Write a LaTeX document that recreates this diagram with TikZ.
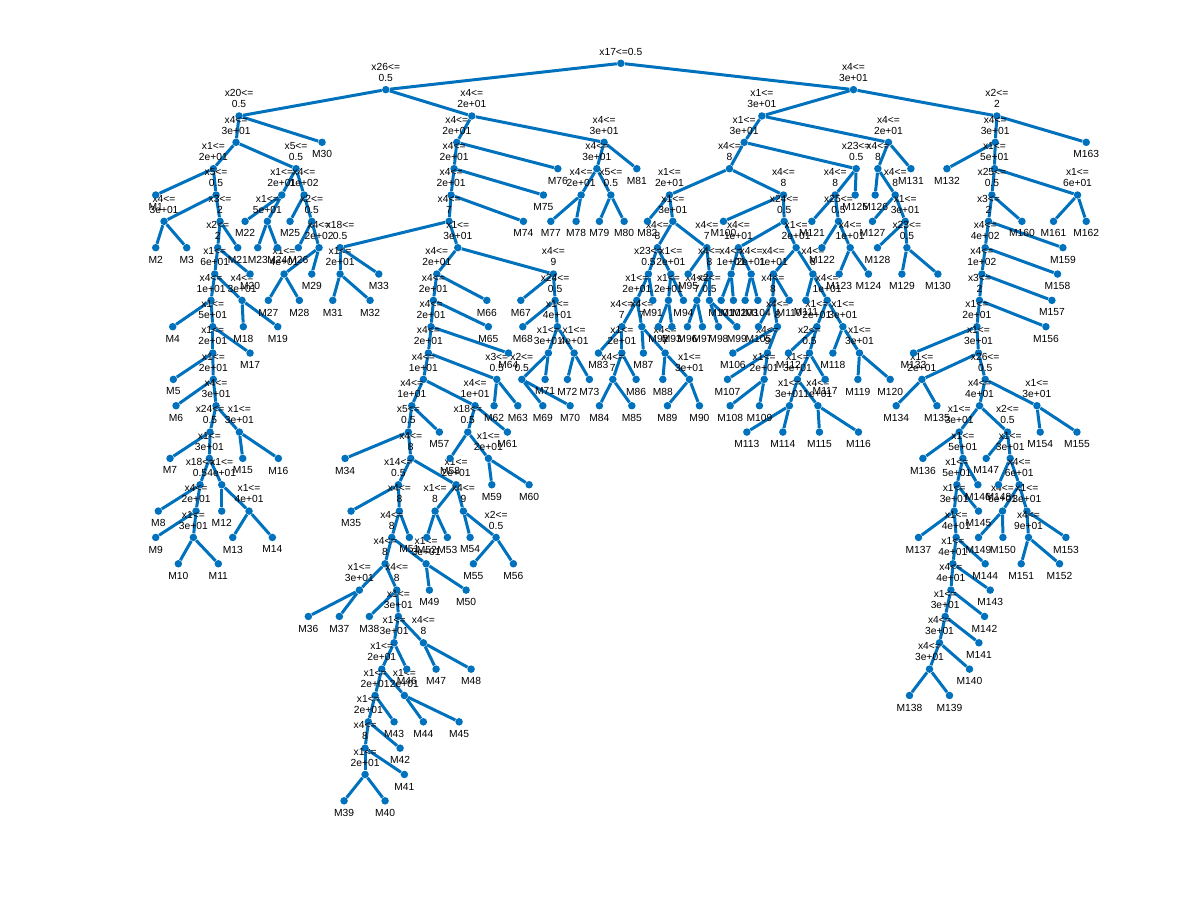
\documentclass[tikz,border=0pt]{standalone}
\usepackage{fontspec}
\setmainfont{Liberation Sans}
\usetikzlibrary{backgrounds}
\definecolor{mblue}{RGB}{0,114,189}
\tikzset{
 dotnode/.style={circle,fill=mblue,draw=none,inner sep=0pt,minimum size=0.15cm},
 splitnode/.style={dotnode,label distance=0.162cm},
 leafnode/.style={dotnode,label distance=0.15cm},
 ilbl/.style={font=\fontsize{5.85pt}{6.26pt}\selectfont,align=center,inner sep=0pt,text depth=0pt,yshift=0.075cm},
 llbl/.style={font=\fontsize{5.85pt}{6.26pt}\selectfont,inner sep=0pt,yshift=-0.08cm},
 conn/.style={draw=mblue,line width=0.06cm},
}
\newcommand\IN[5]{\node[splitnode,label={[ilbl]above:{#4\\#5}}] (#1) at (#2,-#3) {};}
\newcommand\LF[3]{\node[leafnode,label={[llbl]below:M#1}] (M#1) at (#2,-#3) {};}
\begin{document}
\begin{tikzpicture}
\useasboundingbox (0,0) rectangle (24,-18);
\begin{scope}[x=0.02cm,y=0.5268cm,shift={(0,-1.266cm)}]
% root
\node[splitnode,label={[ilbl]above:{x17<=0.5}}] (r) at (620.7,0) {};
% left part
\IN{a1}{385.7}{1}{x26<=}{0.5}
\IN{a2}{239}{2}{x20<=}{0.5}
\IN{a3}{236}{3}{x4<=}{3e+01}
\IN{a4}{213.3}{4}{x1<=}{2e+01}
\IN{a5}{296}{4}{x5<=}{0.5}
\IN{a6}{216}{5}{x5<=}{0.5}
\IN{a7}{164}{6}{x4<=}{3e+01}
\IN{a8}{220}{6}{x3<=}{2}
\IN{a9}{217.7}{7}{x2<=}{2}
\IN{a10}{214.7}{8}{x1<=}{6e+01}
\IN{a11}{211}{9}{x4<=}{1e+01}
\IN{a12}{242}{9}{x4<=}{3e+01}
\IN{a13}{212.7}{10}{x1<=}{5e+01}
\IN{a14}{212.7}{11}{x1<=}{2e+01}
\IN{a15}{213.3}{12}{x1<=}{2e+01}
\IN{a16}{216}{13}{x4<=}{3e+01}
\IN{a17}{210}{14}{x24<=}{0.5}
\IN{a18}{239.3}{14}{x1<=}{3e+01}
\IN{a19}{209.3}{15}{x1<=}{3e+01}
\IN{a20}{200}{16}{x18<=}{0.5}
\IN{a21}{221.7}{16}{x1<=}{4e+01}
\IN{a22}{196}{17}{x4<=}{2e+01}
\IN{a23}{249}{17}{x1<=}{4e+01}
\IN{a24}{193.3}{18}{x1<=}{3e+01}
\IN{a25}{281.7}{5}{x1<=}{2e+01}
\IN{a26}{304}{5}{x4<=}{1e+02}
\IN{a27}{267.3}{6}{x1<=}{5e+01}
\IN{a28}{311.7}{6}{x2<=}{0.5}
\IN{a29}{319}{7}{x4<=}{2e+02}
\IN{a30}{284}{8}{x1<=}{4e+01}
\LF{1}{155.7}{5}\LF{2}{155.7}{7}\LF{3}{186.7}{7}\LF{4}{172.7}{10}
\LF{5}{173.3}{12}\LF{6}{176}{13}\LF{7}{170}{15}\LF{8}{158.3}{17}
\LF{9}{155.7}{18}\LF{10}{178.3}{19}\LF{11}{218.3}{19}\LF{12}{221.7}{17}
\LF{13}{232.7}{18}\LF{14}{272.3}{18}\LF{15}{242.7}{15}\LF{16}{278.3}{15}
\LF{17}{250}{11}\LF{18}{243.3}{10}\LF{19}{277.7}{10}\LF{20}{250}{8}
\LF{21}{237.7}{7}\LF{22}{245}{6}\LF{23}{257.7}{7}\LF{24}{277.3}{7}
\LF{25}{290}{6}\LF{26}{298.3}{7}\LF{27}{268.3}{9}\LF{28}{299.3}{9}
\LF{29}{311.7}{8}\LF{30}{322}{3}
% middle part
\IN{b1}{471.7}{2}{x4<=}{2e+01}
\IN{b2}{456.7}{3}{x4<=}{2e+01}
\IN{b3}{454}{4}{x4<=}{2e+01}
\IN{b4}{451}{5}{x4<=}{2e+01}
\IN{b5}{449}{6}{x4<=}{7}
\IN{b6}{340}{7}{x18<=}{0.5}
\IN{b7}{340}{8}{x1<=}{2e+01}
\IN{b8}{457.7}{7}{x1<=}{3e+01}
\IN{c1}{604}{3}{x4<=}{3e+01}
\IN{c2}{596.7}{4}{x4<=}{3e+01}
\IN{c3}{581}{5}{x4<=}{2e+01}
\IN{c4}{610.7}{5}{x5<=}{0.5}
\IN{p1}{436.7}{8}{x4<=}{2e+01}
\IN{p2}{433.3}{9}{x4<=}{2e+01}
\IN{p3}{431}{10}{x4<=}{2e+01}
\IN{p4}{428.3}{11}{x4<=}{2e+01}
\IN{q1}{423.3}{12}{x4<=}{1e+01}
\IN{q2}{411.7}{13}{x4<=}{1e+01}
\IN{q3}{475}{13}{x4<=}{1e+01}
\IN{q4}{496.7}{12}{x3<=}{0.5}
\IN{s1}{408.3}{14}{x5<=}{0.5}
\IN{s2}{467.7}{14}{x18<=}{0.5}
\IN{s3}{488.3}{15}{x1<=}{2e+01}
\IN{s4}{410.7}{15}{x4<=}{8}
\IN{s5}{398.3}{16}{x14<=}{0.5}
\IN{s6}{456}{16}{x1<=}{2e+01}
\IN{s7}{435}{17}{x1<=}{8}
\IN{s8}{463.3}{17}{x4<=}{9}
\IN{s9}{496}{18}{x2<=}{0.5}
\IN{t1}{399.3}{17}{x4<=}{8}
\IN{t2}{391.7}{18}{x4<=}{8}
\IN{t3}{385}{19}{x4<=}{8}
\IN{t4}{426}{19}{x1<=}{3e+01}
\IN{t5}{359.3}{20}{x1<=}{3e+01}
\IN{t6}{396.7}{20}{x4<=}{8}
\IN{t7}{398.3}{21}{x1<=}{3e+01}
\IN{t8}{394}{22}{x1<=}{3e+01}
\IN{t9}{423.3}{22}{x4<=}{8}
\IN{t10}{381.7}{23}{x1<=}{2e+01}
\IN{t11}{375}{24}{x1<=}{2e+01}
\IN{t12}{404.3}{24}{x1<=}{2e+01}
\IN{t13}{368.3}{25}{x1<=}{2e+01}
\IN{t14}{365}{26}{x4<=}{8}
\IN{t15}{365}{27}{x1<=}{2e+01}
\IN{u1}{553.3}{8}{x4<=}{9}
\IN{u2}{555}{9}{x24<=}{0.5}
\IN{u3}{557.3}{10}{x1<=}{4e+01}
\IN{u4}{548.3}{11}{x1<=}{3e+01}
\IN{u5}{574}{11}{x1<=}{4e+01}
\IN{u6}{521.7}{12}{x2<=}{0.5}
\LF{31}{332.7}{9}\LF{32}{370}{9}\LF{33}{378.7}{8}\LF{34}{345}{15}
\LF{35}{351}{17}\LF{36}{308.3}{21}\LF{37}{339.3}{21}\LF{38}{369.3}{21}
\LF{39}{344}{28}\LF{40}{385}{28}\LF{41}{404.3}{27}\LF{42}{400}{26}
\LF{43}{394}{25}\LF{44}{423.3}{25}\LF{45}{459}{25}\LF{46}{406.7}{23}
\LF{47}{436}{23}\LF{48}{471}{23}\LF{49}{429.3}{20}\LF{50}{466}{20}
\LF{51}{409.3}{18}\LF{52}{426.7}{18}\LF{53}{447.3}{18}\LF{54}{470}{18}
\LF{55}{473.3}{19}\LF{56}{513.3}{19}\LF{57}{439.3}{14}\LF{58}{450}{15}
\LF{59}{491.7}{16}\LF{60}{529}{16}\LF{61}{507.3}{14}\LF{62}{494}{13}
\LF{63}{517.7}{13}\LF{64}{508.3}{11}\LF{65}{488.3}{10}\LF{66}{486.7}{9}
\LF{67}{520.7}{9}\LF{68}{522.7}{10}\LF{69}{542.7}{13}\LF{70}{570}{13}
\LF{71}{545}{12}\LF{72}{567.3}{12}\LF{73}{589.3}{12}\LF{74}{523.3}{6}
\LF{75}{543.3}{5}\LF{76}{557.7}{4}\LF{77}{550.7}{6}\LF{78}{576}{6}
\LF{79}{599.3}{6}\LF{80}{624}{6}\LF{81}{636.7}{4}
% right part
\IN{v0}{853.3}{1}{x4<=}{3e+01}
\IN{v1}{761.7}{2}{x1<=}{3e+01}
\IN{v2}{996.7}{2}{x2<=}{2}
\IN{v3}{744}{3}{x1<=}{3e+01}
\IN{v4}{888.3}{3}{x4<=}{2e+01}
\IN{v5}{729.3}{4}{x4<=}{8}
\IN{v6}{856}{4}{x23<=}{0.5}
\IN{v7}{877.7}{4}{x4<=}{8}
\IN{w1}{669.3}{5}{x1<=}{2e+01}
\IN{w2}{783.3}{5}{x4<=}{8}
\IN{w3}{672.7}{6}{x1<=}{3e+01}
\IN{w4}{657.3}{7}{x4<=}{8}
\IN{w5}{706.7}{7}{x4<=}{7}
\IN{w6}{648.3}{8}{x23<=}{0.5}
\IN{w7}{670.7}{8}{x1<=}{2e+01}
\IN{w8}{636.7}{9}{x1<=}{2e+01}
\IN{w9}{668.3}{9}{x1<=}{2e+01}
\IN{w10}{621.7}{10}{x4<=}{7}
\IN{w11}{641.7}{10}{x4<=}{7}
\IN{w12}{621.7}{11}{x1<=}{2e+01}
\IN{w13}{665}{11}{x4<=}{7}
\IN{w14}{612.7}{12}{x4<=}{7}
\IN{w15}{689.3}{12}{x1<=}{3e+01}
\IN{w16}{709.3}{8}{x4<=}{8}
\IN{w17}{696.7}{9}{x4<=}{7}
\IN{w18}{709.3}{9}{x2<=}{0.5}
\IN{h1}{784}{6}{x24<=}{0.5}
\IN{h2}{738.3}{7}{x4<=}{1e+01}
\IN{h3}{796}{7}{x1<=}{2e+01}
\IN{h4}{731}{8}{x4<=}{1e+01}
\IN{h5}{751}{8}{x4<=}{2e+01}
\IN{h6}{773.3}{8}{x4<=}{1e+01}
\IN{h7}{812.7}{8}{x4<=}{8}
\IN{h8}{772.7}{9}{x4<=}{8}
\IN{h9}{827}{9}{x4<=}{1e+01}
\IN{h10}{777.3}{10}{x4<=}{8}
\IN{h11}{816.7}{10}{x1<=}{2e+01}
\IN{h12}{842.7}{10}{x1<=}{3e+01}
\IN{h13}{767.3}{11}{x4<=}{9}
\IN{h14}{809.3}{11}{x2<=}{0.5}
\IN{h15}{859.3}{11}{x1<=}{3e+01}
\IN{h16}{764}{12}{x1<=}{2e+01}
\IN{h17}{797.3}{12}{x1<=}{3e+01}
\IN{h18}{789.3}{13}{x1<=}{3e+01}
\IN{h19}{817.7}{13}{x4<=}{1e+01}
\IN{y1}{835}{5}{x4<=}{8}
\IN{y2}{838.3}{6}{x25<=}{0.5}
\IN{y3}{850}{7}{x4<=}{1e+01}
\IN{z1}{895}{5}{x4<=}{8}
\IN{z2}{905}{6}{x1<=}{3e+01}
\IN{z3}{906.7}{7}{x23<=}{0.5}
\LF{82}{647.3}{6}\LF{83}{598.3}{11}\LF{84}{599.3}{13}\LF{85}{631.7}{13}
\LF{86}{636}{12}\LF{87}{643.3}{11}\LF{88}{662.7}{12}\LF{89}{667.3}{13}
\LF{90}{699.3}{13}\LF{91}{652.7}{9}\LF{92}{658.3}{10}\LF{93}{671.7}{10}
\LF{94}{683.3}{9}\LF{95}{688}{8}\LF{96}{687.3}{10}\LF{97}{702.3}{10}
\LF{98}{718.3}{10}\LF{99}{736.7}{10}\LF{100}{723.3}{6}\LF{101}{721}{9}
\LF{102}{733.3}{9}\LF{103}{745}{9}\LF{104}{757.7}{9}\LF{105}{758.3}{10}
\LF{106}{732.7}{11}\LF{107}{727.3}{12}\LF{108}{730}{13}\LF{109}{759.3}{13}
\LF{110}{789}{9}\LF{111}{805.7}{9}\LF{112}{788.3}{11}\LF{113}{746.7}{14}
\LF{114}{782.7}{14}\LF{115}{819.3}{14}\LF{116}{858.3}{14}\LF{117}{825}{12}
\LF{118}{832.7}{11}\LF{119}{857.7}{12}\LF{120}{890}{12}\LF{121}{811.7}{6}
\LF{122}{821.7}{7}\LF{123}{839}{8}\LF{124}{868.3}{8}\LF{125}{855}{5}
\LF{126}{875}{5}\LF{127}{872.3}{6}\LF{128}{877.3}{7}\LF{129}{901.7}{8}
\LF{130}{937.7}{8}\LF{131}{910.7}{4}
% far right part
\IN{k1}{995}{3}{x4<=}{3e+01}
\IN{k2}{994.3}{4}{x1<=}{5e+01}
\IN{k3}{991.7}{5}{x25<=}{0.5}
\IN{k4}{1077.3}{5}{x1<=}{6e+01}
\IN{k5}{988.3}{6}{x3<=}{2}
\IN{k6}{985}{7}{x4<=}{4e+02}
\IN{k7}{981.7}{8}{x4<=}{1e+02}
\IN{k8}{979.3}{9}{x3<=}{2}
\IN{k9}{976.7}{10}{x1<=}{2e+01}
\IN{k10}{978.3}{11}{x1<=}{3e+01}
\IN{k11}{921.7}{12}{x1<=}{2e+01}
\IN{k12}{985}{12}{x26<=}{0.5}
\IN{k13}{979.3}{13}{x4<=}{4e+01}
\IN{k14}{1036.7}{13}{x1<=}{3e+01}
\IN{k15}{959}{14}{x1<=}{3e+01}
\IN{k16}{1007.3}{14}{x2<=}{0.5}
\IN{k17}{962.7}{15}{x1<=}{5e+01}
\IN{k18}{1010}{15}{x1<=}{3e+01}
\IN{k19}{956.7}{16}{x1<=}{5e+01}
\IN{k20}{1019}{16}{x4<=}{6e+01}
\IN{k21}{954}{17}{x1<=}{3e+01}
\IN{k22}{1002.3}{17}{x4<=}{6e+01}
\IN{k23}{1026.7}{17}{x1<=}{3e+01}
\IN{k24}{956}{18}{x1<=}{4e+01}
\IN{k25}{1028.3}{18}{x4<=}{9e+01}
\IN{k26}{952.7}{19}{x1<=}{4e+01}
\IN{k27}{950.7}{20}{x4<=}{4e+01}
\IN{k28}{945}{21}{x1<=}{3e+01}
\IN{k29}{939.3}{22}{x4<=}{3e+01}
\IN{k30}{929.3}{23}{x4<=}{3e+01}
\LF{132}{946.7}{4}\LF{133}{913.3}{11}\LF{134}{896}{13}\LF{135}{936.7}{13}
\LF{136}{922.7}{15}\LF{137}{918.3}{18}\LF{138}{909.3}{24}\LF{139}{949.3}{24}
\LF{140}{969.3}{23}\LF{141}{978.7}{22}\LF{142}{984.3}{21}\LF{143}{990}{20}
\LF{144}{985}{19}\LF{145}{978.3}{17}\LF{146}{977.7}{16}\LF{147}{986}{15}
\LF{148}{998.3}{16}\LF{149}{978.3}{18}\LF{150}{1002.7}{18}\LF{151}{1021}{19}
\LF{152}{1059.3}{19}\LF{153}{1065.7}{18}\LF{154}{1040}{14}\LF{155}{1076.7}{14}
\LF{156}{1045.7}{10}\LF{157}{1051.7}{9}\LF{158}{1057.3}{8}\LF{159}{1062.7}{7}
\LF{160}{1021.7}{6}\LF{161}{1053.3}{6}\LF{162}{1086}{6}\LF{163}{1086}{3}
\end{scope}
\begin{pgfonlayer}{background}
\foreach \u/\v in {r/a1,r/v0,a1/a2,a1/b1,a2/a3,a2/M30,a3/a4,a3/a5,a4/M1,a4/a6,
 a6/a7,a6/a8,a7/M2,a7/M3,a8/a9,a8/M21,a9/a10,a9/M20,a10/a11,a10/a12,
 a11/M4,a11/a13,a12/M18,a12/M19,a13/a14,a13/M17,a14/M5,a14/a15,a15/M6,a15/a16,
 a16/a17,a16/a18,a17/M7,a17/a19,a18/M15,a18/M16,a19/a20,a19/a21,a20/M8,a20/a22,
 a22/M9,a22/a24,a24/M10,a24/M11,a21/M12,a21/a23,a23/M13,a23/M14,
 a5/a25,a5/a26,a25/M22,a25/a27,a27/M23,a27/M24,a26/M25,a26/a28,a28/M26,a28/a29,
 a29/a30,a29/M29,a30/M27,a30/M28,
 b1/b2,b1/c1,b2/b3,b2/M76,b3/b4,b3/M75,b4/b5,b4/M74,b5/b6,b5/b8,b6/b7,b6/M33,
 b7/M31,b7/M32,c1/c2,c1/M81,c2/c3,c2/c4,c3/M77,c3/M78,c4/M79,c4/M80,
 b8/p1,b8/u1,p1/p2,p1/M66,p2/p3,p2/M65,p3/p4,p3/M64,p4/q1,p4/q4,q1/q2,q1/q3,
 q2/s1,q2/M57,q3/s2,q3/M61,q4/M62,q4/M63,s2/M58,s2/s3,s3/M59,s3/M60,
 s1/M34,s1/s4,s4/s5,s4/s6,s5/M35,s5/t1,t1/t2,t1/M51,t2/t3,t2/t4,t4/M49,t4/M50,
 t3/t5,t3/t6,t5/M36,t5/M37,t6/M38,t6/t7,t7/t8,t7/t9,t9/M47,t9/M48,t8/t10,t8/M46,
 t10/t11,t10/t12,t12/M44,t12/M45,t11/t13,t11/M43,t13/t14,t13/M42,t14/t15,t14/M41,
 t15/M39,t15/M40,s6/s7,s6/s8,s7/M52,s7/M53,s8/M54,s8/s9,s9/M55,s9/M56,
 u1/M67,u1/u2,u2/M68,u2/u3,u3/u4,u3/u5,u4/u6,u4/M71,u5/M72,u5/M73,u6/M69,u6/M70,
 v0/v1,v0/v2,v1/v3,v1/v4,v3/v5,v3/v6,v4/v7,v4/M131,v5/w1,v5/w2,
 w1/M82,w1/w3,w3/w4,w3/w5,w4/w6,w4/w7,w6/w8,w6/M91,w8/w10,w8/w11,
 w10/M83,w10/w12,w12/w14,w12/M86,w14/M84,w14/M85,w11/M87,w11/w13,w13/M88,w13/w15,
 w15/M89,w15/M90,w7/w9,w7/M94,w9/M92,w9/M93,w5/M95,w5/w16,w16/w17,w16/w18,
 w17/M96,w17/M97,w18/M98,w18/M99,w2/M100,w2/h1,
 h1/h2,h1/h3,h2/h4,h2/h5,h4/M101,h4/M102,h5/M103,h5/M104,h3/h6,h3/h7,
 h6/h8,h6/M110,h8/M105,h8/h10,h10/M106,h10/h13,h13/M107,h13/h16,h16/M108,h16/M109,
 h7/M111,h7/h9,h9/h11,h9/h12,h11/M112,h11/h14,h14/h17,h14/M117,h17/h18,h17/h19,
 h18/M113,h18/M114,h19/M115,h19/M116,h12/M118,h12/h15,h15/M119,h15/M120,
 v6/y1,v6/M125,y1/M121,y1/y2,y2/M122,y2/y3,y3/M123,y3/M124,
 v7/M126,v7/z1,z1/M127,z1/z2,z2/M128,z2/z3,z3/M129,z3/M130,
 v2/k1,v2/M163,k1/M132,k1/k2,k2/k3,k2/k4,k4/M161,k4/M162,k3/k5,k3/M160,
 k5/k6,k5/M159,k6/k7,k6/M158,k7/k8,k7/M157,k8/k9,k8/M156,k9/M133,k9/k10,
 k10/k11,k10/k12,k11/M134,k11/M135,k12/k13,k12/k14,k14/M154,k14/M155,k13/k15,k13/k16,
 k15/M136,k15/k17,k17/k19,k17/M146,k19/k21,k19/M145,k21/M137,k21/k24,k24/k26,k24/M144,
 k26/k27,k26/M143,k27/k28,k27/M142,k28/k29,k28/M141,k29/k30,k29/M140,k30/M138,k30/M139,
 k16/M147,k16/k18,k18/M148,k18/k20,k20/k22,k20/k23,k22/M149,k22/M150,
 k23/k25,k23/M153,k25/M151,k25/M152}
 {\draw[conn] (\u) -- (\v);}
\end{pgfonlayer}
\end{tikzpicture}
\end{document}
